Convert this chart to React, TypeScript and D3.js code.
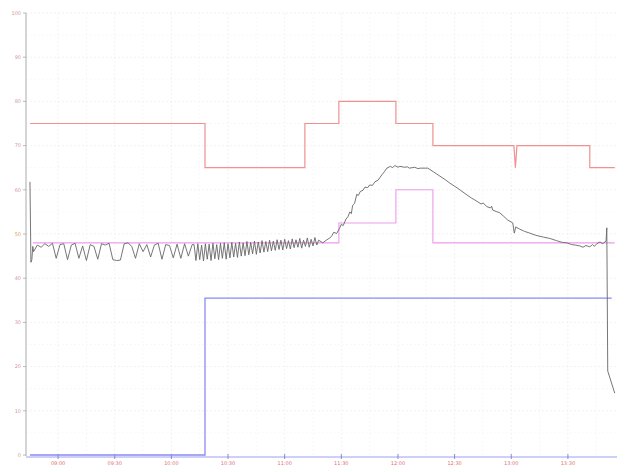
import React from "react";
import * as d3 from "d3";

const W = 625;
const H = 472;

// y ticks and x tick labels
const yTicks = [0, 10, 20, 30, 40, 50, 60, 70, 80, 90, 100];
const xTickTimes = [17, 47, 77, 107, 137, 167, 197, 227, 257, 287];
const xTickLabels = ["09:00", "09:30", "10:00", "10:30", "11:00", "11:30", "12:00", "12:30", "13:00", "13:30"];

// setpoint (red) series [minute, value]
const redSteps: [number, number][] = [
  [2.1, 75], [94.8, 75], [94.8, 65], [147.7, 65], [147.7, 75], [165.7, 75], [165.7, 80],
  [195.9, 80], [195.9, 75], [215.5, 75], [215.5, 70], [258.4, 70], [259.2, 65],
  [260, 70], [298.6, 70], [298.6, 65], [311.8, 65],
];
// magenta step series
const magentaSteps: [number, number][] = [
  [3.7, 48], [165.7, 52.5], [195.9, 60], [215.5, 48], [311.8, 48],
];
// blue step series
const blueSteps: [number, number][] = [
  [2.1, 0], [94.8, 35.5], [310.2, 35.5],
];

// process value (gray) [minute, value]
const pvStart: [number, number][] = [
  [2.1, 61.8], [2.3, 55], [2.6, 43.6], [3.1, 44.2], [3.6, 47.2],
];
const pvEarly: [number, number][] = [
  [4, 46], [6, 47.5], [8, 47], [10, 47.8], [12, 47.2], [14, 47.9], [16, 44.5],
  [18, 47.6], [20, 47.8], [22, 44.2], [24, 47.5], [26, 47.9], [28, 44.5], [30, 47.3],
  [32, 44], [34, 47.6], [36, 47.2], [38, 44.3], [40, 47.8], [42, 47.5], [44, 47.9],
  [46, 44.2], [48, 44], [50, 44.1], [52, 47.8], [54, 48], [56, 47.2], [58, 44.5],
  [60, 47.8], [62, 46], [64, 47.6], [66, 44.8], [68, 47.5], [70, 47.9], [72, 44.3],
  [74, 47.6], [76, 47.4], [78, 44.6], [80, 47.7], [82, 44.5], [84, 47.8], [86, 45],
  [88, 47.6],
];
const pvDense: [number, number][] = [
  [89, 47.6], [90, 44.0], [91, 47.8], [92, 44.2], [93, 47.5], [94, 43.9], [95, 47.8],
  [96, 44.3], [97, 47.7], [98, 44.0], [99, 47.9], [100, 44.4], [101, 47.6], [102, 44.2],
  [103, 47.9], [104, 44.5], [105, 48.0], [106, 44.3], [107, 47.8], [108, 44.6], [109, 48.1],
  [110, 44.8], [111, 47.9], [112, 44.7], [113, 48.2], [114, 45.0], [115, 48.0], [116, 45.1],
  [117, 48.3], [118, 45.3], [119, 48.1], [120, 45.5], [121, 48.4], [122, 45.4], [123, 48.2],
  [124, 45.7], [125, 48.5], [126, 45.9], [127, 48.3], [128, 46.0], [129, 48.6], [130, 46.2],
  [131, 48.4], [132, 46.3], [133, 48.7], [134, 46.5], [135, 48.6], [136, 46.4], [137, 48.8],
  [138, 46.7], [139, 48.5], [140, 46.6], [141, 48.9], [142, 46.9], [143, 48.7], [144, 47.0],
  [145, 49.0], [146, 46.8], [147, 48.6], [148, 47.2], [149, 49.1], [150, 47.0], [151, 48.8],
  [152, 47.3], [153, 49.2], [154, 47.5], [155, 48.6],
];
const pvRise: [number, number][] = [
  [157.2, 48.0], [159, 48.6], [160.9, 49.1], [162, 49.6], [163, 50.4], [164.5, 50.1],
  [166.2, 51.4], [167, 52.2], [168, 51.9], [169.5, 53.4], [170.5, 53.9], [171.5, 55.0],
  [172.3, 54.6], [173, 56.5], [174, 56.9], [175.2, 59.0], [176, 58.7], [177, 59.6],
  [178.5, 59.9], [179.5, 60.6], [181, 60.5], [182, 61.1], [183.5, 61.0], [184.8, 61.8],
  [186.5, 62.2], [188.5, 63.4], [190, 64.2], [191.1, 64.9], [193, 65.3], [194.2, 65.0],
  [195.3, 65.5], [197, 65.1], [198, 65.3], [200.6, 65.1], [202, 65.2], [203, 64.9],
  [205.9, 65.1], [207.5, 64.8], [209, 64.9], [212.8, 64.9], [216, 64.0], [219.2, 63.1],
  [222, 62.3], [224.5, 61.5], [227, 60.8], [229.8, 60.0], [233, 59.0], [236, 58.1],
  [237.7, 57.7], [241, 56.8], [242.2, 57.0], [244, 56.2], [246, 55.9], [246.6, 56.3],
  [247.2, 55.4], [249, 55.1], [250.9, 54.8], [253, 54.0], [255, 53.2], [257.8, 52.5],
  [258.6, 50.2], [259.4, 51.6], [261.5, 51.1], [264, 50.6], [266.8, 50.2], [270, 49.7],
  [274, 49.3], [277.4, 49.0], [281, 48.5], [284, 48.1], [286.4, 48.0], [289, 47.6],
  [291, 47.5], [293.3, 47.3], [295, 47.0], [296.5, 47.4], [298.6, 47.1], [300, 47.6],
  [301, 47.2], [302.3, 47.8], [304, 48.2], [305.4, 47.8], [307.2, 48.4], [307.6, 51.4],
  [308.1, 19.0], [311.8, 14.0],
];
const pvSeries: [number, number][] = [...pvStart, ...pvEarly, ...pvDense, ...pvRise];

export default function App() {
  React.useEffect(() => {
    document.body.style.margin = "0";
  }, []);

  const x = d3.scaleLinear().domain([0, 313]).range([26, 617]);
  const y = d3.scaleLinear().domain([0, 100]).range([455, 13]);

  const stepLine = d3
    .line<[number, number]>()
    .x((d) => x(d[0]))
    .y((d) => y(d[1]))
    .curve(d3.curveStepAfter);
  const plainLine = d3
    .line<[number, number]>()
    .x((d) => x(d[0]))
    .y((d) => y(d[1]));

  const minorY = d3.range(5, 100, 10);
  const minorX = xTickTimes.map((t) => t + 15).filter((t) => t < 313);

  return (
    <svg width={W} height={H} style={{ display: "block", background: "#fff" }}>
      {/* grid */}
      <g stroke="#eaeaea" strokeWidth={0.6} strokeDasharray="2,2">
        {yTicks.slice(1).map((v) => (
          <line key={"gy" + v} x1={x(0)} x2={x(313)} y1={y(v)} y2={y(v)} />
        ))}
        {minorY.map((v) => (
          <line key={"my" + v} x1={x(0)} x2={x(313)} y1={y(v)} y2={y(v)} stroke="#f3f3f3" />
        ))}
        {xTickTimes.map((t) => (
          <line key={"gx" + t} x1={x(t)} x2={x(t)} y1={y(0)} y2={y(100)} />
        ))}
        {minorX.map((t) => (
          <line key={"mx" + t} x1={x(t)} x2={x(t)} y1={y(0)} y2={y(100)} stroke="#f3f3f3" />
        ))}
      </g>

      {/* y axis */}
      <line x1={x(0)} x2={x(0)} y1={y(100)} y2={y(0) + 1} stroke="#aaa" strokeWidth={1} />
      {yTicks.map((v) => (
        <g key={"yt" + v}>
          <line x1={x(0) - 3} x2={x(0)} y1={y(v)} y2={y(v)} stroke="#aaa" strokeWidth={0.8} />
          <text
            x={x(0) - 5}
            y={y(v)}
            dy="0.35em"
            textAnchor="end"
            fontSize={5}
            fontFamily="DejaVu Sans, sans-serif"
            fill={v === 50 ? "#e0a060" : "#d89898"}
          >
            {v}
          </text>
        </g>
      ))}

      {/* x axis */}
      <line x1={x(0)} x2={x(313)} y1={y(0) + 2} y2={y(0) + 2} stroke="#9aa0f0" strokeWidth={1} />
      {xTickTimes.map((t, i) => (
        <g key={"xt" + t}>
          <line x1={x(t)} x2={x(t)} y1={y(0) - 1} y2={y(0) + 4} stroke="#7070d0" strokeWidth={0.8} />
          <text
            x={x(t)}
            y={y(0) + 10}
            textAnchor="middle"
            fontSize={5}
            fontFamily="DejaVu Sans, sans-serif"
            fill="#e07070"
          >
            {xTickLabels[i]}
          </text>
        </g>
      ))}

      {/* series */}
      <path d={stepLine(blueSteps) || ""} fill="none" stroke="#8a8af0" strokeWidth={1.3} />
      <path d={stepLine(magentaSteps) || ""} fill="none" stroke="#ec9cec" strokeWidth={1.1} />
      <path d={plainLine(redSteps) || ""} fill="none" stroke="#f09090" strokeWidth={1.2} />
      <path d={plainLine(pvSeries) || ""} fill="none" stroke="#666" strokeWidth={0.9} />
    </svg>
  );
}
